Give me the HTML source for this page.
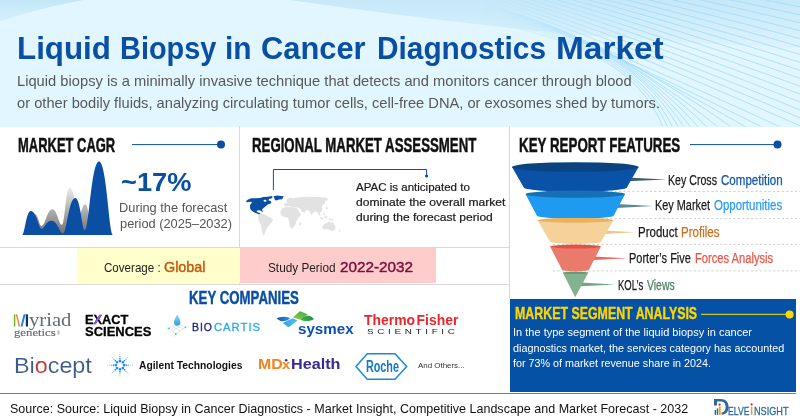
<!DOCTYPE html>
<html><head><meta charset="utf-8"><title>Liquid Biopsy in Cancer Diagnostics Market</title>
<style>
html,body{margin:0;padding:0}
body{width:800px;height:420px;position:relative;overflow:hidden;background:#fff;font-family:"Liberation Sans",sans-serif}
.t{position:absolute;white-space:nowrap;line-height:1;transform-origin:0 0}
.a{position:absolute}
</style></head><body>
<!-- header background -->
<div class="a" style="left:0;top:0;width:800px;height:126.5px;background:#e1f6fe"></div>
<!-- grid lines -->
<div class="a" style="left:239px;top:126px;width:1px;height:158px;background:#d9d9d9"></div>
<div class="a" style="left:509px;top:126px;width:1px;height:173px;background:#d9d9d9"></div>
<div class="a" style="left:0;top:247px;width:509px;height:1px;background:#d9d9d9"></div>
<div class="a" style="left:0;top:284px;width:509px;height:1px;background:#d9d9d9"></div>
<!-- coverage / study boxes -->
<div class="a" style="left:77px;top:247.5px;width:163px;height:35.5px;background:#ffffcc"></div>
<div class="a" style="left:240px;top:247.5px;width:195.5px;height:35.5px;background:#ffcccc"></div>
<!-- blue box -->
<div class="a" style="left:509.5px;top:299px;width:286.5px;height:92.6px;background:#0451a6"></div>
<div class="a" style="left:0;top:392.8px;width:796px;height:1.7px;background:#4a86cc"></div>
<svg class="a" style="left:0;top:0" width="800" height="420" viewBox="0 0 800 420">
<defs>
<linearGradient id="gg" x1="0" y1="0" x2="0" y2="1"><stop offset="0" stop-color="#ececec"/><stop offset="1" stop-color="#6f6f6f"/></linearGradient>
<linearGradient id="fade" x1="0" y1="0" x2="1" y2="0"><stop offset="0.2" stop-color="#fff" stop-opacity="0"/><stop offset="0.6" stop-color="#fff" stop-opacity="1"/></linearGradient>
<mask id="fm"><rect x="400" y="0" width="400" height="140" fill="url(#fade)"/></mask>
<clipPath id="hc"><rect x="0" y="0" width="800" height="126.5"/></clipPath>
<linearGradient id="w1" x1="0" y1="0" x2="0" y2="1"><stop offset="0" stop-color="#c3e7f8"/><stop offset="1" stop-color="#d6f0fc"/></linearGradient>
<linearGradient id="w2" x1="0" y1="0" x2="0" y2="1"><stop offset="0" stop-color="#c6e8f9"/><stop offset="1" stop-color="#dcf3fd"/></linearGradient>
</defs>
<g clip-path="url(#hc)">
<path d="M0,0 L83,0 C55,5.5 25,12.5 0,21.5 Z" fill="url(#w1)"/>
<path d="M290,0 Q400,16 520,29 T800,48 L800,0 Z" fill="url(#w2)"/>
<g mask="url(#fm)" fill="none" stroke="#9ad9f8" stroke-width="0.7">
<path d="M420.0,14.0 Q629.8,30.8 664.0,130.0"/>
<path d="M420.0,11.7 Q628.3,28.3 669.0,130.0"/>
<path d="M420.0,9.3 Q626.7,25.9 674.0,130.0"/>
<path d="M420.0,7.0 Q623.8,23.3 680.0,130.0"/>
<path d="M420.0,4.7 Q617.5,20.5 686.0,130.0"/>
<path d="M420.0,2.3 Q609.7,17.5 693.0,130.0"/>
<path d="M420.0,0.0 Q600.5,14.4 701.0,130.0"/>
<path d="M420.0,-2.3 Q591.4,11.4 710.0,130.0"/>
<path d="M420.0,-4.7 Q572.7,7.5 722.0,130.0"/>
<path d="M420.0,-7.0 Q555.8,3.9 736.0,130.0"/>
<path d="M420.0,-9.3 Q525.3,-0.9 751.0,130.0"/>
<path d="M420.0,-11.7 Q497.0,-5.5 768.0,130.0"/>
<path d="M420.0,-14.0 Q485.3,-8.8 787.0,130.0"/>
<path d="M420.0,-16.3 Q489.6,-10.8 805.0,128.0"/>
<path d="M420.0,-18.7 Q492.1,-12.9 805.0,120.0"/>
<path d="M420.0,-21.0 Q494.7,-15.0 805.0,112.0"/>
<path d="M420.0,-23.3 Q497.7,-17.1 805.0,104.0"/>
<path d="M420.0,-25.7 Q500.9,-19.2 805.0,96.0"/>
<path d="M420.0,-28.0 Q504.5,-21.2 805.0,88.0"/>
<path d="M420.0,-30.3 Q508.5,-23.3 805.0,80.0"/>
<path d="M420.0,-32.7 Q512.9,-25.2 805.0,72.0"/>
<path d="M420.0,-35.0 Q518.0,-27.2 805.0,64.0"/>
<path d="M420.0,-37.3 Q523.7,-29.0 805.0,56.0"/>
<path d="M420.0,-39.7 Q530.3,-30.8 805.0,48.0"/>
<path d="M420.0,-42.0 Q537.9,-32.6 805.0,40.0"/>
<path d="M420.0,-44.3 Q546.9,-34.2 805.0,32.0"/>
<path d="M420.0,-46.7 Q557.5,-35.7 805.0,24.0"/>
<path d="M420.0,-49.0 Q570.4,-37.0 805.0,16.0"/>
<path d="M420.0,-51.3 Q586.4,-38.0 805.0,8.0"/>
<path d="M420.0,-53.7 Q606.5,-38.7 805.0,0.0"/>
<path d="M420.0,-56.0 Q632.8,-39.0 805.0,-8.0"/>
</g></g>
<line x1="132" y1="144.6" x2="221" y2="144.6" stroke="#0b4fa5" stroke-width="1"/><circle cx="221" cy="144.6" r="4" fill="#0b4fa5"/>
<line x1="690" y1="144.6" x2="777.5" y2="144.6" stroke="#0b4fa5" stroke-width="1"/><circle cx="777.5" cy="144.6" r="4" fill="#0b4fa5"/>
<line x1="701" y1="314.4" x2="789" y2="314.4" stroke="#c9c71e" stroke-width="1.2"/><circle cx="789.6" cy="314.4" r="4" fill="#ffd500"/>
<path d="M33,235 C33.70,235 34.00,214 35,214 C38.25,214 39.23,226 41.5,226 C45.31,226 46.95,209.2 52.4,209.2 C57.20,209.2 58.64,224.8 62,224.8 C64.66,224.8 65.80,187.4 69.6,187.4 C74.30,187.4 75.71,215 79,215 C81.17,215 82.10,204.2 85.2,204.2 C89.10,204.2 90.27,235 93,235 L93,235 L33,235 Z" fill="url(#gg)"/>
<path d="M22.1,235 C24.71,235 26.02,211 30.8,211 C36.80,211 38.43,228.8 41.7,228.8 C44.61,228.8 46.06,220.7 51.4,220.7 C57.78,220.7 59.52,233.5 63,233.5 C66.69,233.5 68.53,198.1 75.3,198.1 C80.52,198.1 81.95,230.3 84.8,230.3 C89.06,230.3 91.19,161.5 99,161.5 C106.75,161.5 108.87,235 113.1,235 L113.1,235 L22.1,235 Z" fill="#0b4fa5"/>
<path d="M273.4,190 V169.5 H426.6 V175" fill="none" stroke="#0b4fa5" stroke-width="1"/><circle cx="426.6" cy="176" r="1.6" fill="#0b4fa5"/>
<g fill="#0b4fa5">
<path d="M245.9,201.3 L248,199.6 L251.3,198.2 L255.5,198.3 L259.9,197.9 L263.4,197.1 L267.7,196.8 L272,196.1 L272.6,197.4 L271.3,198.6 L269,199 L268.4,200.4 L270.4,200.8 L271.4,202.2 L270.6,203.4 L267.7,204.4 L266.2,205.8 L264.9,207.1 L263,208.4 L262,209.6 L262.9,211.4 L262.2,212 L260.6,210.6 L257.7,210.2 L256.5,211.4 L258,212.4 L259.9,212.9 L260.6,214.2 L259.5,214.8 L257,213.6 L254.6,212.4 L252.7,211.4 L250.8,209.8 L250.1,208.2 L249.9,206.1 L250.6,204 L252.2,202.4 L250.4,201.8 L248.6,202 L247,202.2 Z"/>
<path d="M273.4,196.2 L277,195.6 L283.8,196.2 L283,197.6 L282.2,199.2 L279,199.4 L276.6,200.4 L274.9,200 L274.4,198.2 Z"/>
<ellipse cx="265" cy="200.8" rx="1.5" ry="1" fill="#fff"/>
</g>
<g fill="#e2e2e2">
<path d="M258.3,214.8 L260.5,213.6 L263.5,214 L267,216 L270.5,217.4 L273,219.2 L272,222 L269.6,224.6 L267.4,227.6 L265.6,231 L264.6,234 L264,235.6 L262.6,234 L261.6,230 L261,225.6 L259.4,222 L258,218.4 Z"/>
<path d="M284,205.4 L284.6,203.2 L287,202.6 L286.6,200.6 L288.2,198.4 L291,197.4 L293,198.6 L296,197.6 L302,197 L310,196.8 L318,197 L325,197.6 L328.4,198.8 L327,200.4 L324.6,201 L325.4,203.4 L323.4,204.6 L321.6,206.6 L322.6,209 L321.4,211.4 L319.6,213 L320.6,216 L318.8,215 L317.2,211.8 L315,211.4 L313.4,212.6 L311.6,215 L309.6,211.6 L307.4,210 L305.6,210.4 L304.6,213 L302,211.6 L300,208.6 L297,207.6 L293.6,207.4 L290.6,206.4 L288,206 L286,206.8 Z"/>
<path d="M280.4,211.4 L282,208.6 L285,207.2 L290,207 L294,207.8 L297.6,208.4 L298.6,211 L301,214.8 L298.6,217.6 L296.6,221 L295.4,224.6 L293.4,227.6 L291.4,228.8 L289.8,226 L289,221.6 L288,217.8 L285,217 L282,216 L280.4,213.6 Z"/>
<ellipse cx="300.2" cy="223.6" rx="0.9" ry="2" transform="rotate(20 300.2 223.6)"/>
<path d="M319,216.4 L322,217.6 L324,219.6 L321.6,219.2 Z M324.4,216 L327.6,216.4 L327,218.6 L324.6,218 Z M328.6,218.2 L333.6,219.4 L333,220.8 L328.6,219.6 Z M325.6,208 L327.2,206.2 L327.8,208.4 L326.2,210 Z M323.8,212.4 L325,213.6 L324.6,215.4 L323.4,214 Z"/>
<path d="M322.4,226 L325,223.6 L327.6,222.6 L329.4,221.2 L331,223 L332.6,222 L334,224 L335.6,226.4 L335,229.4 L332.6,231 L330,230 L327.4,229 L324.6,229.6 L322.6,228.6 Z"/>
<path d="M339,230 L340.6,229 L340,231.2 L338,232.4 Z"/>
</g>
<line x1="553" y1="191.4" x2="800" y2="191.4" stroke="#cfcfcf" stroke-width="1" stroke-dasharray="2.2,2.2"/>
<line x1="553" y1="218.6" x2="800" y2="218.6" stroke="#cfcfcf" stroke-width="1" stroke-dasharray="2.2,2.2"/>
<line x1="553" y1="244.4" x2="800" y2="244.4" stroke="#cfcfcf" stroke-width="1" stroke-dasharray="2.2,2.2"/>
<line x1="553" y1="270.9" x2="800" y2="270.9" stroke="#cfcfcf" stroke-width="1" stroke-dasharray="2.2,2.2"/>
<path d="M622,177.20000000000002 L666,179.4 L622,181.6 Z" fill="#3f5f70"/>
<path d="M612,203.8 L653,206 L612,208.2 Z" fill="#5f8796"/>
<path d="M604,230.5 L636,232.3 L604,234.10000000000002 Z" fill="#f2c68a"/>
<path d="M593,256.4 L627.4,258.2 L593,260.0 Z" fill="#e8685a"/>
<path d="M581,282.59999999999997 L615.3,284.4 L581,286.2 Z" fill="#6fa882"/>
<path d="M511.99999999999994,167 L523.8,187.5 A51.5,4.2 0 0 0 626.8,187.5 L638.5999999999999,167 Z" fill="#0a52a8"/>
<ellipse cx="575.3" cy="167" rx="63.3" ry="4.8" fill="#0b4280"/>
<path d="M525.5999999999999,194.2 L536.8,215.4 A38.5,3.4 0 0 0 613.8,215.4 L625.0,194.2 Z" fill="#1e9af0"/>
<ellipse cx="575.3" cy="194.2" rx="49.7" ry="3.6" fill="#1670b4"/>
<path d="M537.5,220.3 L549.9,241.6 A25.6,2.4 0 0 0 601.1,241.6 L613.5,220.3 Z" fill="#f5d29a"/>
<ellipse cx="575.5" cy="220.3" rx="38" ry="2.4" fill="#eab25c"/>
<path d="M550.1,246.6 L561.9,269.4 A13.6,1.9 0 0 0 589.1,269.4 L600.9,246.6 Z" fill="#ea7a6c"/>
<ellipse cx="575.5" cy="246.6" rx="25.4" ry="2" fill="#e2533d"/>
<path d="M562.7,272.6 L575.2,297.2 L588.4,272.6 Z" fill="#82b290"/><ellipse cx="575.5" cy="272.8" rx="12.8" ry="1.3" fill="#649a76"/>
</svg>
<div class="t" style="left:16.56px;top:34.00px;font-size:30.7px;font-weight:700;color:#0b4fa5;transform:scaleX(1.0205);">Liquid</div>
<div class="t" style="left:119.61px;top:34.00px;font-size:30.7px;font-weight:700;color:#0b4fa5;transform:scaleX(0.9427);">Biopsy</div>
<div class="t" style="left:224.85px;top:34.00px;font-size:30.7px;font-weight:700;color:#0b4fa5;transform:scaleX(0.9734);">in</div>
<div class="t" style="left:260.80px;top:34.00px;font-size:30.7px;font-weight:700;color:#0b4fa5;transform:scaleX(1.0048);">Cancer</div>
<div class="t" style="left:376.96px;top:34.00px;font-size:30.7px;font-weight:700;color:#0b4fa5;transform:scaleX(0.9715);">Diagnostics</div>
<div class="t" style="left:556.22px;top:34.00px;font-size:30.7px;font-weight:700;color:#0b4fa5;transform:scaleX(1.0889);">Market</div>
<div class="t" style="left:17.39px;top:74.00px;font-size:14.5px;color:#595959;transform:scaleX(1.0141);">Liquid biopsy is a minimally invasive technique that detects and monitors cancer through blood</div>
<div class="t" style="left:17.00px;top:96.00px;font-size:14.5px;color:#595959;transform:scaleX(1.0126);">or other bodily fluids, analyzing circulating tumor cells, cell-free DNA, or exosomes shed by tumors.</div>
<div class="t" style="left:18.16px;top:135.00px;font-size:20.3px;font-weight:700;color:#111;transform:scaleX(0.6391);-webkit-text-stroke:0.5px #111;">MARKET CAGR</div>
<div class="t" style="left:251.75px;top:135.00px;font-size:20.3px;font-weight:700;color:#111;transform:scaleX(0.6527);-webkit-text-stroke:0.5px #111;">REGIONAL MARKET ASSESSMENT</div>
<div class="t" style="left:518.84px;top:135.00px;font-size:20.3px;font-weight:700;color:#111;transform:scaleX(0.6585);-webkit-text-stroke:0.5px #111;">KEY REPORT FEATURES</div>
<div class="t" style="left:121.35px;top:169.00px;font-size:26px;font-weight:700;color:#0b4fa5;transform:scaleX(1.0468);">~17%</div>
<div class="t" style="left:118.57px;top:202.00px;font-size:12.4px;color:#555;transform:scaleX(1.0341);">During the forecast</div>
<div class="t" style="left:119.60px;top:218.00px;font-size:12.4px;color:#555;transform:scaleX(1.0349);">period (2025–2032)</div>
<div class="t" style="left:103.75px;top:262.00px;font-size:12.6px;color:#222;transform:scaleX(0.9206);">Coverage :</div>
<div class="t" style="left:163.75px;top:260.00px;font-size:14.4px;color:#c55a11;transform:scaleX(0.9964);-webkit-text-stroke:0.45px #c55a11;">Global</div>
<div class="t" style="left:268.25px;top:262.00px;font-size:12.6px;color:#222;transform:scaleX(0.9362);">Study Period</div>
<div class="t" style="left:340.00px;top:260.00px;font-size:14.4px;color:#7b1040;transform:scaleX(1.0608);-webkit-text-stroke:0.45px #7b1040;">2022-2032</div>
<div class="t" style="left:355.60px;top:182.00px;font-size:10.8px;color:#1a1a1a;transform:scaleX(1.0673);-webkit-text-stroke:0.2px #1a1a1a;">APAC is anticipated to</div>
<div class="t" style="left:355.60px;top:197.00px;font-size:10.8px;color:#1a1a1a;transform:scaleX(1.1214);-webkit-text-stroke:0.2px #1a1a1a;">dominate the overall market</div>
<div class="t" style="left:355.60px;top:212.00px;font-size:10.8px;color:#1a1a1a;transform:scaleX(1.1173);-webkit-text-stroke:0.2px #1a1a1a;">during the forecast period</div>
<div class="t" style="left:667.64px;top:173.00px;font-size:14px;color:#1a1a1a;transform:scaleX(0.7582);-webkit-text-stroke:0.25px #1a1a1a;">Key Cross</div>
<div class="t" style="left:720.60px;top:173.00px;font-size:14px;color:#1556a8;transform:scaleX(0.8253);-webkit-text-stroke:0.25px #1556a8;">Competition</div>
<div class="t" style="left:655.22px;top:198.00px;font-size:14px;color:#1a1a1a;transform:scaleX(0.7781);-webkit-text-stroke:0.25px #1a1a1a;">Key Market</div>
<div class="t" style="left:714.40px;top:198.00px;font-size:14px;color:#2a9df4;transform:scaleX(0.8190);-webkit-text-stroke:0.25px #2a9df4;">Opportunities</div>
<div class="t" style="left:638.28px;top:225.00px;font-size:14px;color:#1a1a1a;transform:scaleX(0.8214);-webkit-text-stroke:0.25px #1a1a1a;">Product</div>
<div class="t" style="left:681.17px;top:225.00px;font-size:14px;color:#c8721c;transform:scaleX(0.8253);-webkit-text-stroke:0.25px #c8721c;">Profiles</div>
<div class="t" style="left:629.21px;top:251.00px;font-size:14px;color:#1a1a1a;transform:scaleX(0.7854);-webkit-text-stroke:0.25px #1a1a1a;">Porter’s Five</div>
<div class="t" style="left:694.50px;top:251.00px;font-size:14px;color:#e8584a;transform:scaleX(0.7975);-webkit-text-stroke:0.25px #e8584a;">Forces Analysis</div>
<div class="t" style="left:618.32px;top:278.00px;font-size:14px;color:#1a1a1a;transform:scaleX(0.6787);-webkit-text-stroke:0.25px #1a1a1a;">KOL’s</div>
<div class="t" style="left:647.20px;top:278.00px;font-size:14px;color:#4a8060;transform:scaleX(0.7468);-webkit-text-stroke:0.25px #4a8060;">Views</div>
<div class="t" style="left:189.25px;top:290.00px;font-size:17.6px;font-weight:700;color:#0b4fa5;transform:scaleX(0.7529);-webkit-text-stroke:0.4px #0b4fa5;">KEY COMPANIES</div>
<div class="t" style="left:514.67px;top:305.00px;font-size:17px;font-weight:700;color:#ffd500;transform:scaleX(0.7285);-webkit-text-stroke:0.4px #ffd500;">MARKET SEGMENT ANALYSIS</div>
<div class="t" style="left:512.98px;top:327.00px;font-size:10.8px;color:#fff;transform:scaleX(1.0211);">In the type segment of the liquid biopsy in cancer</div>
<div class="t" style="left:513.40px;top:343.00px;font-size:10.8px;color:#fff;transform:scaleX(0.9998);">diagnostics market, the services category has accounted</div>
<div class="t" style="left:513.40px;top:358.00px;font-size:10.8px;color:#fff;transform:scaleX(0.9967);">for 73% of market revenue share in 2024.</div>
<div class="t" style="left:9.60px;top:403.00px;font-size:12.2px;color:#111;transform:scaleX(1.0278);">Source: Source: Liquid Biopsy in Cancer Diagnostics - Market Insight, Competitive Landscape and Market Forecast - 2032</div>
<div class="t" style="left:28.80px;top:311.00px;font-size:18px;color:#656b75;font-family:'Liberation Serif', serif;transform:scaleX(1.1464);">yriad</div>
<div class="t" style="left:13.90px;top:328.00px;font-size:10.5px;color:#66666e;font-family:'Liberation Serif', serif;transform:scaleX(1.2123);-webkit-text-stroke:0.15px #66666e;">genetics</div>
<div class="t" style="left:57.40px;top:332.00px;font-size:4.6px;color:#74747c;transform:scaleX(0.9000);">®</div>
<div class="t" style="left:84.80px;top:314.00px;font-size:12.6px;font-weight:700;color:#000;transform:scaleX(1.0165);-webkit-text-stroke:0.3px #000;">EXACT</div>
<div class="t" style="left:84.50px;top:326.00px;font-size:12.6px;font-weight:700;color:#000;transform:scaleX(1.0315);-webkit-text-stroke:0.3px #000;">SCIENCES</div>
<div class="t" style="left:192.00px;top:321.00px;font-size:11.6px;color:#1f2a7a;transform:scaleX(0.9050);letter-spacing:1px;-webkit-text-stroke:0.35px #1f2a7a;">BIO</div>
<div class="t" style="left:213.90px;top:321.00px;font-size:11.6px;color:#29abe2;transform:scaleX(0.9728);letter-spacing:1px;-webkit-text-stroke:0.3px #29abe2;">CARTIS</div>
<div class="t" style="left:297.60px;top:322.00px;font-size:14.3px;font-weight:700;color:#0b4fb0;transform:scaleX(1.0587);">sysmex</div>
<div class="t" style="left:363.60px;top:313.00px;font-size:14px;font-weight:700;color:#e8262a;transform:scaleX(0.9952);">Thermo<span style="margin-left:1.5px">Fisher</span></div>
<div class="t" style="left:367.00px;top:328.00px;font-size:8px;color:#222;transform:scaleX(1.2303);letter-spacing:3px;">SCIENTIFIC</div>
<div class="t" style="left:14.40px;top:355.00px;font-size:21.8px;color:#3d5a8c;transform:scaleX(1.0699);-webkit-text-stroke:0.12px #fff;">Bi<span style="color:#c0392b;-webkit-text-stroke:0.12px #fff">o</span>cept</div>
<div class="t" style="left:139.40px;top:360.00px;font-size:11.2px;font-weight:700;color:#111;transform:scaleX(0.9208);">Agilent Technologies</div>
<div class="t" style="left:257.60px;top:357.00px;font-size:14.8px;font-weight:700;color:#f58220;transform:scaleX(1.0718);">MD</div>
<div class="t" style="left:281.60px;top:358.00px;font-size:13.4px;font-weight:700;color:#f58220;transform:scaleX(1.1000);">x</div>
<div class="t" style="left:290.60px;top:357.00px;font-size:14.8px;font-weight:700;color:#3b2a8c;transform:scaleX(1.0933);">Health</div>
<div class="t" style="left:365.56px;top:359.00px;font-size:16.8px;font-weight:700;color:#1278c8;transform:scaleX(0.6426);">Roche</div>
<div class="t" style="left:417.80px;top:362.00px;font-size:7.8px;color:#333;transform:scaleX(1.0160);">And Others...</div>
<div class="t" style="left:728.20px;top:406.00px;font-size:11.8px;color:#2b6a9e;transform:scaleX(0.7341);-webkit-text-stroke:0.3px #2b6a9e;">ELVE</div>
<div class="t" style="left:753.80px;top:406.00px;font-size:11.8px;color:#2b6a9e;transform:scaleX(0.7755);-webkit-text-stroke:0.3px #2b6a9e;">NSIGHT</div>
<svg class="a" style="left:0;top:0" width="800" height="420" viewBox="0 0 800 420">
<defs><linearGradient id="dr" x1="0" y1="0" x2="0" y2="1"><stop offset="0" stop-color="#9bd8f5"/><stop offset="1" stop-color="#2b9fdb"/></linearGradient>
<linearGradient id="sg" x1="0" y1="0" x2="1" y2="1"><stop offset="0" stop-color="#2e9e48"/><stop offset="1" stop-color="#9bcf4a"/></linearGradient>
<linearGradient id="sb" x1="0" y1="0" x2="1" y2="1"><stop offset="0" stop-color="#0f6ec8"/><stop offset="1" stop-color="#55bdf0"/></linearGradient><linearGradient id="sb1" x1="0" y1="0" x2="1" y2="0"><stop offset="0" stop-color="#0a5cb4"/><stop offset="1" stop-color="#2f95dc"/></linearGradient>
<linearGradient id="sb2" x1="0" y1="0" x2="1" y2="0"><stop offset="0" stop-color="#2da4ea"/><stop offset="1" stop-color="#59bdf0"/></linearGradient>
<linearGradient id="sg1" x1="0" y1="1" x2="1" y2="0"><stop offset="0" stop-color="#93c83f"/><stop offset="1" stop-color="#3dab49"/></linearGradient>
<linearGradient id="sg2" x1="0" y1="0" x2="1" y2="0"><stop offset="0" stop-color="#4db04a"/><stop offset="1" stop-color="#1d9444"/></linearGradient>
</defs>
<rect x="13.9" y="314.3" width="1.4" height="12.2" fill="#6ab42d"/>
<path d="M15.7,314.3 L17.2,314.3 L20.2,326.5 L18.7,326.5 Z" fill="#f58233"/>
<path d="M20.6,326.5 L22.6,326.5 L25.6,314.3 L23.6,314.3 Z" fill="#1f86e0"/>
<rect x="25.8" y="314.3" width="2.2" height="12.2" fill="#1a2d6b"/>
<path d="M93.6,324 L95.9,324 L101.6,315 L99.3,315 Z" fill="#8b5cf6"/>
<g stroke="#c4c4c4" stroke-width="0.4" fill="none"><path d="M169,328.4 L177.5,323 L185.4,327.3 L175.8,333.9 Z"/><path d="M172,326.5 L181,331"/><path d="M174.6,324.8 L183.4,329"/><path d="M172.6,331 L181.4,325.2"/><path d="M170.8,329.6 L179.4,324"/><path d="M166,329 L169,328.4 M185.4,327.3 L189,326.6 M175.8,333.9 L174,337"/></g>
<path d="M177.2,314.2 C178.6,317.4 180.4,319.6 180.4,322.2 A3.2,3.4 0 0 1 174,322.2 C174,319.6 175.8,317.4 177.2,314.2 Z" fill="url(#dr)"/>
<circle cx="169" cy="328.4" r="0.9" fill="#3cc0ee"/>
<circle cx="185.4" cy="327.3" r="0.9" fill="#3cc0ee"/>
<circle cx="175.8" cy="333.9" r="0.9" fill="#3cc0ee"/>
<path d="M276.7,318.6 C279,316.6 285,316 290.2,318 C288,320.4 284.6,321.6 281.6,321.2 C279.6,320.8 277.8,319.8 276.7,318.6 Z" fill="url(#sb1)"/>
<path d="M282.8,322.9 L292.6,318.3 L297.6,320.4 L289.4,326.7 C288.8,327.1 288.2,327.1 287.6,326.7 Z" fill="url(#sb2)"/>
<path d="M292.9,317.2 L299.6,311.6 C300,311.3 300.4,311.2 300.9,311.4 L307.9,314.4 L299.5,319.4 Z" fill="url(#sg1)"/>
<path d="M300.2,319.5 C302.6,316.6 306,315.2 309,315.8 C311,316.4 312.8,317.6 313.9,319.1 C311.6,320.8 308,321.4 304.6,321 C302.8,320.7 301.2,320.2 300.2,319.5 Z" fill="url(#sg2)"/>
<circle cx="286.2" cy="360.2" r="1.25" fill="#3b2a8c"/>
<path d="M356,366.4 L367.2,353.7 L395,353.7 L406.7,366.4 L395,379.2 L367.2,379.2 Z" fill="none" stroke="#1e88d8" stroke-width="1.5" stroke-linejoin="miter"/>
<rect x="122.85" y="364.05" width="2.30" height="2.30" fill="#1a8cff" opacity="1"/>
<rect x="125.55" y="364.45" width="1.50" height="1.50" fill="#1a8cff" opacity="0.95"/>
<rect x="127.85" y="364.65" width="1.10" height="1.10" fill="#1a8cff" opacity="0.8"/>
<rect x="129.95" y="364.75" width="0.90" height="0.90" fill="#1a8cff" opacity="0.55"/>
<rect x="132.00" y="364.80" width="0.80" height="0.80" fill="#1a8cff" opacity="0.3"/>
<rect x="121.65" y="366.95" width="2.30" height="2.30" fill="#1a8cff" opacity="1"/>
<rect x="123.68" y="368.98" width="1.50" height="1.50" fill="#1a8cff" opacity="0.95"/>
<rect x="125.36" y="370.66" width="1.10" height="1.10" fill="#1a8cff" opacity="0.8"/>
<rect x="126.87" y="372.17" width="0.90" height="0.90" fill="#1a8cff" opacity="0.55"/>
<rect x="128.34" y="373.64" width="0.80" height="0.80" fill="#1a8cff" opacity="0.3"/>
<rect x="118.75" y="368.15" width="2.30" height="2.30" fill="#1a8cff" opacity="1"/>
<rect x="119.15" y="370.85" width="1.50" height="1.50" fill="#1a8cff" opacity="0.95"/>
<rect x="119.35" y="373.15" width="1.10" height="1.10" fill="#1a8cff" opacity="0.8"/>
<rect x="119.45" y="375.25" width="0.90" height="0.90" fill="#1a8cff" opacity="0.55"/>
<rect x="119.50" y="377.30" width="0.80" height="0.80" fill="#1a8cff" opacity="0.3"/>
<rect x="115.85" y="366.95" width="2.30" height="2.30" fill="#1a8cff" opacity="1"/>
<rect x="114.62" y="368.98" width="1.50" height="1.50" fill="#1a8cff" opacity="0.95"/>
<rect x="113.34" y="370.66" width="1.10" height="1.10" fill="#1a8cff" opacity="0.8"/>
<rect x="112.03" y="372.17" width="0.90" height="0.90" fill="#1a8cff" opacity="0.55"/>
<rect x="110.66" y="373.64" width="0.80" height="0.80" fill="#1a8cff" opacity="0.3"/>
<rect x="114.65" y="364.05" width="2.30" height="2.30" fill="#1a8cff" opacity="1"/>
<rect x="112.75" y="364.45" width="1.50" height="1.50" fill="#1a8cff" opacity="0.95"/>
<rect x="110.85" y="364.65" width="1.10" height="1.10" fill="#1a8cff" opacity="0.8"/>
<rect x="108.95" y="364.75" width="0.90" height="0.90" fill="#1a8cff" opacity="0.55"/>
<rect x="107.00" y="364.80" width="0.80" height="0.80" fill="#1a8cff" opacity="0.3"/>
<rect x="115.85" y="361.15" width="2.30" height="2.30" fill="#1a8cff" opacity="1"/>
<rect x="114.62" y="359.92" width="1.50" height="1.50" fill="#1a8cff" opacity="0.95"/>
<rect x="113.34" y="358.64" width="1.10" height="1.10" fill="#1a8cff" opacity="0.8"/>
<rect x="112.03" y="357.33" width="0.90" height="0.90" fill="#1a8cff" opacity="0.55"/>
<rect x="110.66" y="355.96" width="0.80" height="0.80" fill="#1a8cff" opacity="0.3"/>
<rect x="118.75" y="359.95" width="2.30" height="2.30" fill="#1a8cff" opacity="1"/>
<rect x="119.15" y="358.05" width="1.50" height="1.50" fill="#1a8cff" opacity="0.95"/>
<rect x="119.35" y="356.15" width="1.10" height="1.10" fill="#1a8cff" opacity="0.8"/>
<rect x="119.45" y="354.25" width="0.90" height="0.90" fill="#1a8cff" opacity="0.55"/>
<rect x="119.50" y="352.30" width="0.80" height="0.80" fill="#1a8cff" opacity="0.3"/>
<rect x="121.65" y="361.15" width="2.30" height="2.30" fill="#1a8cff" opacity="1"/>
<rect x="123.68" y="359.92" width="1.50" height="1.50" fill="#1a8cff" opacity="0.95"/>
<rect x="125.36" y="358.64" width="1.10" height="1.10" fill="#1a8cff" opacity="0.8"/>
<rect x="126.87" y="357.33" width="0.90" height="0.90" fill="#1a8cff" opacity="0.55"/>
<rect x="128.34" y="355.96" width="0.80" height="0.80" fill="#1a8cff" opacity="0.3"/>
<path d="M37.6,361.6 L40.4,361 L39.2,363.8 Z" fill="#c0392b"/>
<path fill-rule="evenodd" d="M714,399 L720.4,399 C726,399 728.6,402.4 728.6,406.9 C728.6,411.4 726,414.8 720.4,414.8 L721.6,414.8 L721.6,412.4 C724.4,412.2 725.6,410 725.6,406.9 C725.6,403.6 724.2,401.5 720.6,401.5 L717,401.5 L717,405.6 L714,405.6 Z" fill="#2b6a9e"/>
<rect x="714.6" y="410" width="1.6" height="4.8" fill="#2b6a9e"/><rect x="716.8" y="408.4" width="1.4" height="6.4" fill="#2b6a9e"/><rect x="718.8" y="406.6" width="1.9" height="8.2" fill="#f0a020"/><circle cx="719.6" cy="404.7" r="1.15" fill="#d8262c"/>
<rect x="750.9" y="406.6" width="1.5" height="8.2" fill="#f0a020"/><circle cx="751.6" cy="404.4" r="1.1" fill="#d8262c"/>
</svg>
</body></html>
